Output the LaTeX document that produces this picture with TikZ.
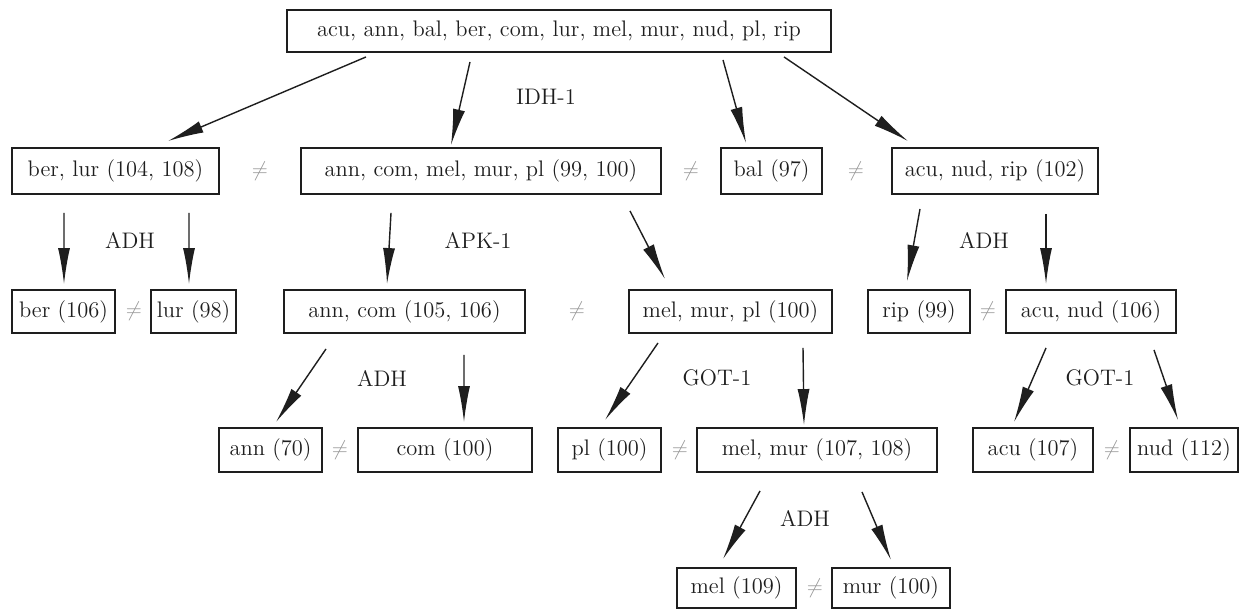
\documentclass[tikz,border=0pt]{standalone}
\usepackage{xcolor}
\usepackage{tikz}
\usetikzlibrary{arrows.meta, calc}
\definecolor{treeink}{RGB}{30,30,30}
\definecolor{neqgray}{RGB}{150,150,150}
\newcommand{\treefont}{\fontsize{12.8}{15}\selectfont}
\tikzset{
  taxbox/.style={
    rectangle, draw=treeink, line width=1.1pt, inner sep=0pt,
    minimum width=#1, text=treeink, font=\treefont
  },
  locus/.style={font=\treefont, text=treeink},
  neqsign/.style={font=\treefont, text=neqgray},
  arrowflow/.style={-{Latex[length=7.2mm,width=2.4mm]}, line width=0.8pt, draw=treeink}
}

\begin{document}
\begin{tikzpicture}[x=0.02cm, y=-0.02cm]
\useasboundingbox (0,0) rectangle (1246,611);

% -------- ROOT --------
\node[taxbox=10.88cm, minimum height=0.84cm] (root) at (559,31) {acu, ann, bal, ber, com, lur, mel, mur, nud, pl, rip};
\node[locus] (idh) at (546,97) {IDH-1};

% -------- FIRST SPLIT --------
\node[taxbox=4.14cm, minimum height=0.92cm] (berlur) at (115.5,171) {ber, lur (104, 108)};
\node[taxbox=7.2cm, minimum height=0.92cm] (anncommel) at (481,171) {ann, com, mel, mur, pl (99, 100)};
\node[taxbox=2.02cm, minimum height=0.92cm] (bal) at (771.5,171) {bal (97)};
\node[taxbox=4.12cm, minimum height=0.92cm] (acunudrip) at (995,171) {acu, nud, rip (102)};
\node[neqsign] (ne1) at (260,171) {$\neq$};
\node[neqsign] (ne2) at (691,171) {$\neq$};
\node[neqsign] (ne3) at (856,171) {$\neq$};

\node[locus] (adh1) at (130,240) {ADH};
\node[locus] (apk) at (478,240) {APK-1};
\node[locus] (adh2) at (984,240) {ADH};

% -------- SECOND SPLIT --------
\node[taxbox=2.06cm, minimum height=0.86cm] (ber) at (63.5,311.5) {ber (106)};
\node[taxbox=1.70cm, minimum height=0.86cm] (lur) at (193.5,311.5) {lur (98)};
\node[taxbox=4.82cm, minimum height=0.86cm] (anncom) at (404.5,311.5) {ann, com (105, 106)};
\node[taxbox=4.06cm, minimum height=0.86cm] (melmurpl) at (730.5,311.5) {mel, mur, pl (100)};
\node[taxbox=2.04cm, minimum height=0.86cm] (rip) at (919,311.5) {rip (99)};
\node[taxbox=3.40cm, minimum height=0.86cm] (acunud) at (1091,311.5) {acu, nud (106)};
\node[neqsign] (ne4) at (134,311.5) {$\neq$};
\node[neqsign] (ne5) at (577,311.5) {$\neq$};
\node[neqsign] (ne6) at (988,311.5) {$\neq$};

\node[locus] (adh3) at (382,378) {ADH};
\node[locus] (got1) at (717,378) {GOT-1};
\node[locus] (got2) at (1100,378) {GOT-1};

% -------- THIRD SPLIT --------
\node[taxbox=2.06cm, minimum height=0.88cm] (ann) at (270.5,450) {ann (70)};
\node[taxbox=3.48cm, minimum height=0.88cm] (com) at (445,450) {com (100)};
\node[taxbox=2.06cm, minimum height=0.88cm] (pl) at (609.5,450) {pl (100)};
\node[taxbox=4.80cm, minimum height=0.88cm] (melmur) at (817,450) {mel, mur (107, 108)};
\node[taxbox=2.40cm, minimum height=0.88cm] (acu) at (1033,450) {acu (107)};
\node[taxbox=2.16cm, minimum height=0.88cm] (nud) at (1184,450) {nud (112)};
\node[neqsign] (ne7) at (340,450) {$\neq$};
\node[neqsign] (ne8) at (680,450) {$\neq$};
\node[neqsign] (ne9) at (1112,450) {$\neq$};

\node[locus] (adh4) at (805,518) {ADH};

% -------- LAST SPLIT --------
\node[taxbox=2.38cm, minimum height=0.80cm] (mel) at (736.5,588) {mel (109)};
\node[taxbox=2.36cm, minimum height=0.80cm] (mur) at (891,588) {mur (100)};
\node[neqsign] (ne10) at (815,588) {$\neq$};

% arrows: source / start offset / target / end offset (in px)
\foreach \a/\sx/\sy/\b/\ex/\ey in {
    root/-193/4/berlur/52.5/-6, root/-89/9/anncommel/-30/-2,
    root/164/7/bal/-25.5/-4, root/225/4/acunudrip/-87/-6,
    berlur/-51.5/18/ber/0.5/-5, berlur/73.5/18/lur/-4.5/-5,
    anncommel/-90/18/anncom/-17.5/-5, anncommel/149/16/melmurpl/-65.5/-10,
    acunudrip/-75/14/rip/-12/-8, acunudrip/51/19/acunud/-45/-5,
    anncom/-78.5/15/ann/5.5/-5, anncom/59.5/21/com/19/-5,
    melmurpl/-72.5/9/pl/-4.5/-7, melmurpl/72.5/14/melmur/-13/-2,
    acunud/-45/14/acu/-19/-5, acunud/63/16/nud/-6/-7,
    melmur/-57/18/mel/-13.5/-8, melmur/45/19/mur/0/-7}
  \draw[arrowflow] ($(\a.south)+(\sx,\sy)$) -- ($(\b.north)+(\ex,\ey)$);

\end{tikzpicture}
\end{document}
